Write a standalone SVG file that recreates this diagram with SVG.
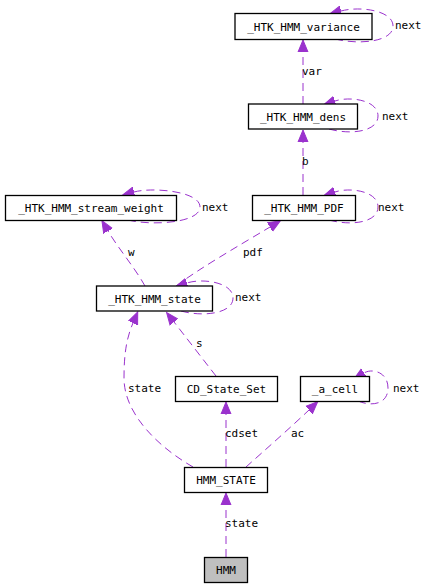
<svg xmlns="http://www.w3.org/2000/svg" width="428" height="588" viewBox="0 0 428 588">
<style>
.n rect{fill:#ffffff;stroke:#000000;stroke-width:1.3}
.n.hl rect{fill:#bfbfbf}
text{font-family:"DejaVu Sans Mono","Liberation Mono",monospace;font-size:11px;fill:#000000}
.n text{text-anchor:middle}
.e path{fill:none;stroke:#9a32cd;stroke-width:1;stroke-dasharray:8,5;marker-end:url(#ah)}
</style>
<defs>
<marker id="ah" markerUnits="userSpaceOnUse" markerWidth="14" markerHeight="12" refX="0" refY="5" orient="auto" viewBox="0 0 14 10">
<path d="M0,0 L12,5 L0,10 Z" fill="#9a32cd" stroke="#9a32cd"/>
</marker>
</defs>
<rect width="428" height="588" fill="#ffffff"/>
<g id="edges" class="e">
<path d="M226,557 L226,505"/>
<path d="M226,467 L226,414"/>
<path d="M246,467 C265,450 290,428 309,410"/>
<path d="M193,467 C160,448 124,415 124,378 C124,352 127,337 133,323"/>
<path d="M216,376 C205,362 185,336 174,322"/>
<path d="M145,286 C135,268 118,248 108,231"/>
<path d="M176,286 C200,268 240,245 270,227"/>
<path d="M303,195 L303,142"/>
<path d="M303,104 L303,52"/>
<path d="M335,39 C359,45 393,42 393,26 C393,10 359,6 341,11"/>
<path d="M329,129 C350,135 378,132 378,116 C378,100 350,96 335,101"/>
<path d="M128,220 C152,226 200,223 200,207 C200,191 152,187 134,192"/>
<path d="M329,220 C350,226 378,223 378,207 C378,191 350,187 335,192"/>
<path d="M181,311 C202,317 233,314 233,298 C233,282 202,278 187,283"/>
<path d="M358,401 C372,407 388,404 388,388 C388,372 372,368 364,373"/>
</g>
<g id="edge-labels">
<text x="225" y="527">state</text>
<text x="225" y="437">cdset</text>
<text x="291" y="437">ac</text>
<text x="128" y="392">state</text>
<text x="196" y="347">s</text>
<text x="128" y="256">w</text>
<text x="243" y="256">pdf</text>
<text x="302" y="165">b</text>
<text x="302" y="75">var</text>
<text x="395" y="29">next</text>
<text x="382" y="120">next</text>
<text x="202" y="211">next</text>
<text x="378" y="211">next</text>
<text x="235" y="301">next</text>
<text x="393" y="392">next</text>
</g>
<g id="node-variance" class="n"><rect x="235" y="13.5" width="137" height="26"/><text x="303.5" y="30.5">_HTK_HMM_variance</text></g>
<g id="node-dens" class="n"><rect x="248.5" y="104" width="109" height="25"/><text x="303" y="120.5">_HTK_HMM_dens</text></g>
<g id="node-stream-weight" class="n"><rect x="5.5" y="195.5" width="171" height="25"/><text x="91" y="212">_HTK_HMM_stream_weight</text></g>
<g id="node-pdf" class="n"><rect x="252.5" y="195.5" width="103" height="25"/><text x="304" y="212">_HTK_HMM_PDF</text></g>
<g id="node-state" class="n"><rect x="96.5" y="286" width="116" height="25"/><text x="154.5" y="302.5">_HTK_HMM_state</text></g>
<g id="node-cd-state-set" class="n"><rect x="175.5" y="376.5" width="102" height="25"/><text x="226.5" y="393">CD_State_Set</text></g>
<g id="node-a-cell" class="n"><rect x="300.5" y="376.5" width="69" height="25"/><text x="335" y="393">_a_cell</text></g>
<g id="node-hmm-state" class="n"><rect x="184.5" y="467.5" width="83" height="25"/><text x="226" y="484">HMM_STATE</text></g>
<g id="node-hmm" class="n hl"><rect x="204.5" y="557.5" width="43" height="25"/><text x="226" y="574">HMM</text></g>
</svg>
